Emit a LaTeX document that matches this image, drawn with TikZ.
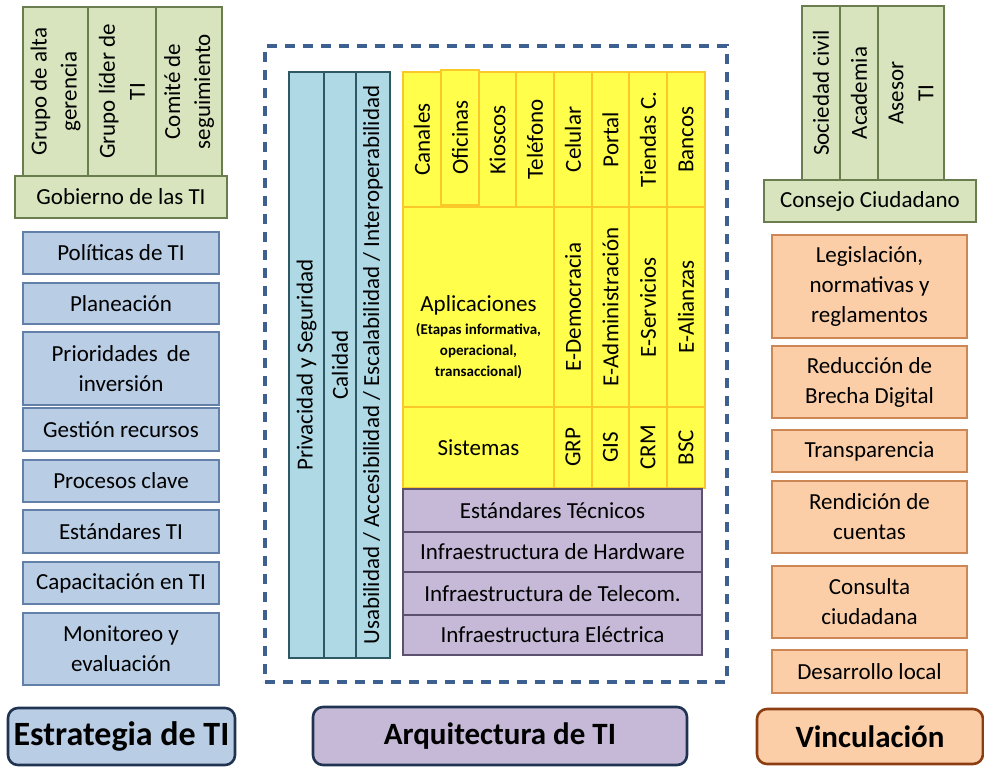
\documentclass[tikz,border=0pt]{standalone}
\usepackage{fontspec}
\setmainfont{Carlito}
\usepackage{tikz}
\usetikzlibrary{positioning}
\definecolor{govfill}{RGB}{215,228,189}
\definecolor{govline}{RGB}{105,125,78}
\definecolor{strfill}{RGB}{185,205,229}
\definecolor{strline}{RGB}{98,128,168}
\definecolor{qualfill}{RGB}{174,217,229}
\definecolor{qualline}{RGB}{45,88,100}
\definecolor{chnfill}{RGB}{255,255,75}
\definecolor{chnline}{RGB}{250,200,40}
\definecolor{inffill}{RGB}{197,185,215}
\definecolor{infline}{RGB}{92,82,112}
\definecolor{vinfill}{RGB}{251,206,168}
\definecolor{vinline}{RGB}{205,135,85}
\definecolor{frameblue}{RGB}{62,96,145}
\definecolor{ttlnavy}{RGB}{32,52,82}
\definecolor{ttlbrown}{RGB}{140,62,18}
\newcommand{\cellfont}{\fontsize{23}{30}\selectfont}
\newcommand{\notefont}{\fontsize{15}{20.5}\selectfont\bfseries}
\newcommand{\headfont}{\fontsize{31}{36}\selectfont\bfseries}

\begin{document}
\begin{tikzpicture}[x=1pt, y=-1pt,
    cell/.style={draw=#1line, fill=#1fill, line width=1.1pt, inner sep=0pt, align=center, font=\cellfont},
    vert/.style={rotate=90},
    head/.style={draw=#1, rounded corners=10pt, line width=2.6pt, inner sep=0pt, font=\headfont},
    frame/.style={draw=frameblue, line width=3.2pt, dash pattern=on 10pt off 8pt, inner sep=0pt}
]
\useasboundingbox (0,0) rectangle (984,766);

% Estrategia de TI
\node[cell=gov, vert, minimum width=169pt, minimum height=65pt] (alta) at (55.5,91.5) {Grupo de alta\\gerencia};
\node[cell=gov, vert, minimum width=169pt, minimum height=68pt] (lider) at (122,91.5) {Grupo líder de\\TI};
\node[cell=gov, vert, minimum width=169pt, minimum height=66pt] (comite) at (189,91.5) {Comité de\\seguimiento};
\node[cell=gov, minimum width=212pt, minimum height=42pt] (gobierno) at (121,197) {Gobierno de las TI};

\node[cell=str, minimum width=196pt, minimum height=42pt] (politicas) at (121,253) {Políticas de TI};
\node[cell=str, minimum width=196pt, minimum height=41pt] (planeacion) at (121,303.5) {Planeación};
\node[cell=str, minimum width=196pt, minimum height=73pt] (prioridades) at (121,368.5) {Prioridades\, de\\inversión};
\node[cell=str, minimum width=196pt, minimum height=43pt] (gestion) at (121,429.5) {Gestión recursos};
\node[cell=str, minimum width=196pt, minimum height=42pt] (procesos) at (121,481) {Procesos clave};
\node[cell=str, minimum width=196pt, minimum height=43pt] (estandares) at (121,531.5) {Estándares TI};
\node[cell=str, minimum width=196pt, minimum height=42pt] (capacitacion) at (121,583) {Capacitación en TI};
\node[cell=str, minimum width=196pt, minimum height=72pt] (monitoreo) at (121,649) {Monitoreo y\\evaluación};

\node[head=ttlnavy, fill=strfill, minimum width=227pt, minimum height=57pt, font=\fontsize{34}{38}\selectfont\bfseries] (estrategia) at (121.5,736.5) {Estrategia de TI};

% Arquitectura de TI
\node[frame, minimum width=462pt, minimum height=636pt] (marco) at (496,364) {};

\node[cell=qual, vert, minimum width=586pt, minimum height=35pt] (privacidad) at (306.5,365) {Privacidad y Seguridad};
\node[cell=qual, vert, minimum width=586pt, minimum height=32pt] (calidad) at (340,365) {Calidad};
\node[cell=qual, vert, minimum width=586pt, minimum height=34pt] (usabilidad) at (373,365) {Usabilidad / Accesibilidad / Escalabilidad / Interoperabilidad};

\node[cell=chn, vert, minimum width=135pt, minimum height=38pt] (canales) at (422,139.5) {Canales};
\node[cell=chn, vert, minimum width=135pt, minimum height=37pt] (kioscos) at (497.5,139.5) {Kioscos};
\node[cell=chn, vert, minimum width=135pt, minimum height=38pt] (telefono) at (535,139.5) {Teléfono};
\node[cell=chn, vert, minimum width=135pt, minimum height=38pt] (celular) at (573,139.5) {Celular};
\node[cell=chn, vert, minimum width=135pt, minimum height=37pt] (portal) at (610.5,139.5) {Portal};
\node[cell=chn, vert, minimum width=135pt, minimum height=38pt] (tiendas) at (648,139.5) {Tiendas C.};
\node[cell=chn, vert, minimum width=135pt, minimum height=38pt] (bancos) at (686,139.5) {Bancos};
\node[cell=chn, vert, minimum width=135pt, minimum height=38pt] (oficinas) at (460,137.5) {Oficinas};

\node[cell=chn, minimum width=151pt, minimum height=200pt,
      label={[align=center, font=\cellfont, yshift=-30pt]center:Aplicaciones\\[-7pt]{\notefont(Etapas informativa,}\\[-9pt]{\notefont operacional,}\\[-9pt]{\notefont transaccional)}}] (aplicaciones) at (478.5,307) {};
\node[cell=chn, vert, minimum width=200pt, minimum height=38pt] (edemocracia) at (573,307) {E-Democracia};
\node[cell=chn, vert, minimum width=200pt, minimum height=37pt] (eadmin) at (610.5,307) {E-Administración};
\node[cell=chn, vert, minimum width=200pt, minimum height=38pt] (eservicios) at (648,307) {E-Servicios};
\node[cell=chn, vert, minimum width=200pt, minimum height=38pt] (ealianzas) at (686,307) {E-Alianzas};

\node[cell=chn, minimum width=151pt, minimum height=81pt] (sistemas) at (478.5,447.5) {Sistemas};
\node[cell=chn, vert, minimum width=81pt, minimum height=38pt] (grp) at (573,447.5) {GRP};
\node[cell=chn, vert, minimum width=81pt, minimum height=37pt] (gis) at (610.5,447.5) {GIS};
\node[cell=chn, vert, minimum width=81pt, minimum height=38pt] (crm) at (648,447.5) {CRM};
\node[cell=chn, vert, minimum width=81pt, minimum height=38pt] (bsc) at (686,447.5) {BSC};

\node[cell=inf, minimum width=299pt, minimum height=43pt] (tecnicos) at (552.5,510.5) {Estándares Técnicos};
\node[cell=inf, minimum width=299pt, minimum height=40pt] (hardware) at (552.5,552) {Infraestructura de Hardware};
\node[cell=inf, minimum width=299pt, minimum height=43pt] (telecom) at (552.5,593.5) {Infraestructura de Telecom.};
\node[cell=inf, minimum width=299pt, minimum height=40pt] (electrica) at (552.5,635) {Infraestructura Eléctrica};

\node[head=ttlnavy, fill=inffill, minimum width=374pt, minimum height=58pt] (arquitectura) at (500,736) {Arquitectura de TI};

% Vinculación
\node[cell=gov, vert, minimum width=174pt, minimum height=38pt] (sociedad) at (821,93) {Sociedad civil};
\node[cell=gov, vert, minimum width=174pt, minimum height=38pt] (academia) at (859,93) {Academia};
\node[cell=gov, vert, minimum width=174pt, minimum height=66pt] (asesor) at (911,93) {Asesor\\TI};
\node[cell=gov, minimum width=212pt, minimum height=42pt] (consejo) at (870,201) {Consejo Ciudadano};

\node[cell=vin, minimum width=195pt, minimum height=103pt] (legislacion) at (869.5,286.5) {Legislación,\\normativas y\\reglamentos};
\node[cell=vin, minimum width=195pt, minimum height=72pt] (brecha) at (869.5,382) {Reducción de\\Brecha Digital};
\node[cell=vin, minimum width=195pt, minimum height=42pt] (transparencia) at (869.5,451) {Transparencia};
\node[cell=vin, minimum width=195pt, minimum height=72pt] (rendicion) at (869.5,517) {Rendición de\\cuentas};
\node[cell=vin, minimum width=195pt, minimum height=72pt] (consulta) at (869.5,602) {Consulta\\ciudadana};
\node[cell=vin, minimum width=195pt, minimum height=43pt] (desarrollo) at (869.5,671.5) {Desarrollo local};

\node[head=ttlbrown, fill=vinfill, minimum width=226pt, minimum height=55pt] (vinculacion) at (870,736.5) {Vinculación};
\end{tikzpicture}
\end{document}
